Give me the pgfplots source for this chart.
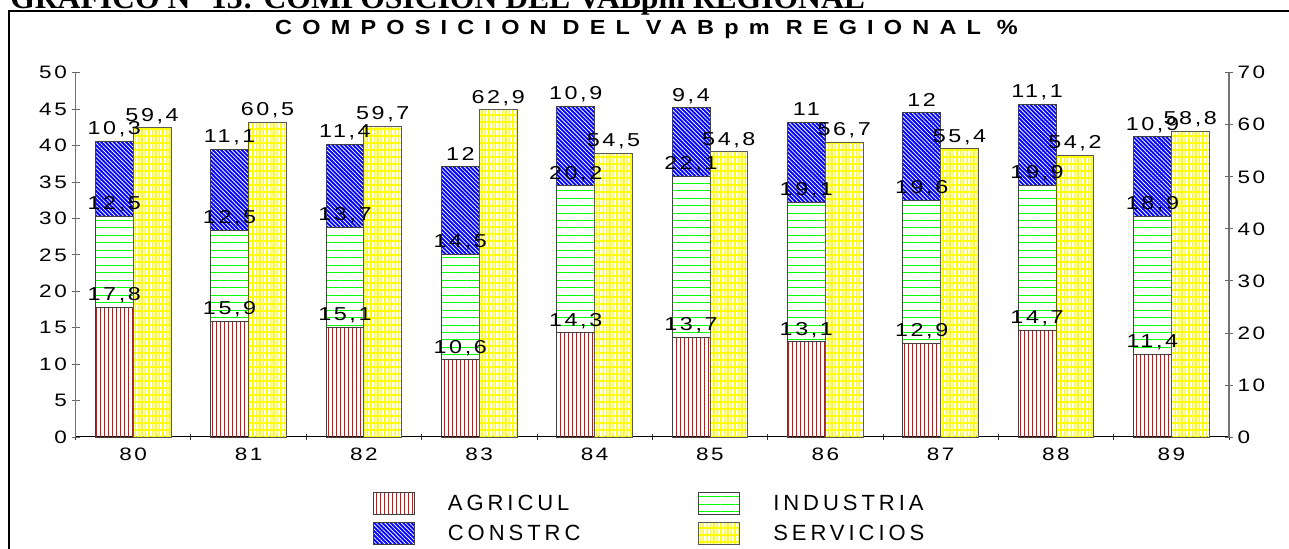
\documentclass[border=0pt]{standalone}
\usepackage{fontspec}
\setmainfont{Liberation Sans}
\newfontfamily\numfont[LetterSpace=14,FakeStretch=1.25]{Liberation Sans}
\newfontfamily\legfont[LetterSpace=18]{Liberation Sans}
\newfontfamily\titfont[LetterSpace=50,FakeStretch=1.15]{Liberation Sans}
\newfontfamily\serfont{Liberation Serif}
\usepackage{pgfplots}
\pgfplotsset{compat=1.18}
\usepackage{pgfplotstable}
\usetikzlibrary{patterns.meta}

\definecolor{cred}{RGB}{255,0,0}
\definecolor{cgreen}{RGB}{0,255,0}
\definecolor{cblue}{RGB}{0,0,255}
\definecolor{cyellow}{RGB}{255,255,0}

\pgfplotstableread{
x agri ind con serv
0 17.8 12.5 10.3 59.4
1 15.9 12.5 11.1 60.5
2 15.1 13.7 11.4 59.7
3 10.6 14.5 12.0 62.9
4 14.3 20.2 10.9 54.5
5 13.7 22.1 9.4 54.8
6 13.1 19.1 11.0 56.7
7 12.9 19.6 12.0 55.4
8 14.7 19.9 11.1 54.2
9 11.4 18.9 10.9 58.8
}\data

\pgfplotsset{
  swatch/.style={legend image code/.code={\draw[##1] (0pt,-8.15pt) rectangle (30.75pt,8.15pt);}},
  agristyle/.style={swatch, draw=black!75, line width=0.6pt, pattern={Lines[angle=90,distance=3pt,line width=0.75pt]}, pattern color=cred},
  indstyle/.style={swatch, draw=black!75, line width=0.6pt, pattern={Lines[angle=0,distance=5.6pt,line width=0.7pt]}, pattern color=cgreen},
  constyle/.style={swatch, draw=black!75, line width=0.6pt, fill=cblue, postaction={pattern={Lines[angle=-45,distance=2.2pt,line width=0.6pt]}, pattern color=white}},
  servstyle/.style={swatch, draw=black!65, line width=0.6pt, pattern={Lines[angle=90,distance=2.6pt,line width=1.05pt]}, pattern color=cyellow, postaction={pattern={Lines[angle=0,distance=5.25pt,line width=1.05pt]}, pattern color=cyellow}},
  common/.style={
    at={(56.625pt,84pt)}, anchor=south west, scale only axis,
    width=865.125pt, height=273.2pt,
    xmin=-0.5, xmax=9.5, ymin=0,
    clip=false,
    /pgf/number format/assume math mode=true,
    /pgf/number format/use comma,
    /pgf/number format/fixed,
    /pgf/number format/precision=1,
    ticklabel style={font=\numfont\fontsize{13.5pt}{16pt}\selectfont},
    tick align=center,
    major tick length=6pt,
  },
  lab/.style={nodes near coords,
    every node near coord/.append style={anchor=base, yshift=4.9pt, inner sep=0pt,
      font=\numfont\fontsize{14pt}{16pt}\selectfont, text=black}},
}

\begin{document}
\begin{tikzpicture}
\useasboundingbox (0,0) rectangle (966.75pt,411.75pt);
\clip (0,0) rectangle (966.75pt,411.75pt);
% outer frame
\draw[line width=1.65pt] (6.975pt,-10pt) -- (6.975pt,403.3pt) -- (990pt,403.3pt);
% outer (cut) title
\node[anchor=base west, inner sep=0pt] at (7.5pt,405.4pt)
  {\resizebox{641pt}{!}{\serfont\bfseries GRAFICO N° 13: COMPOSICION DEL VABpm REGIONAL}};
% inner title
\node[anchor=base, inner sep=0pt] at (484.9pt,385.5pt)
  {\titfont\bfseries\fontsize{15.3pt}{18pt}\selectfont COMPOSICION\hspace{12pt}DEL\hspace{12pt}VABpm\hspace{12pt}REGIONAL\hspace{12pt}\%};

% left axis: stacked bars
\begin{axis}[common, ymax=50,
  ybar stacked, bar width=0.328, bar shift=-0.164,
  axis x line*=bottom, axis y line*=left,
  x axis line style={black, line width=0.75pt, -},
  y axis line style={black!55, line width=0.9pt, -},
  ytick={0,5,...,50},
  xtick={-0.5,0.5,...,9.5}, x tick label as interval,
  xticklabels={80,81,82,83,84,85,86,87,88,89},
  xtick style={black!80, line width=0.6pt, /pgfplots/major tick length=4.5pt},
  ytick style={black!60, line width=0.6pt},
  xticklabel style={yshift=-2pt},
]
\addplot[agristyle] table[x=x,y=agri]{\data};
\addplot[indstyle] table[x=x,y=ind]{\data};
\addplot[constyle] table[x=x,y=con]{\data};
\end{axis}

% right axis: SERVICIOS
\begin{axis}[common, ymax=70,
  ybar, bar width=0.328, bar shift=0.164,
  axis y line*=right, axis x line=none,
  y axis line style={black!55, line width=0.9pt, -},
  ytick={0,10,...,70},
  ytick style={black!60, line width=0.6pt},
  legend columns=2,
  legend cell align=left,
  legend style={at={(0.2577,-0.1518)}, anchor=north west, draw=none, fill=none,
    inner sep=0pt, outer sep=0pt, column sep=0pt, row sep=5.7pt,
    /tikz/every even column/.style={column sep=0pt},
    nodes={inner sep=0pt, outer sep=0pt}},
]
\addlegendimage{agristyle}
\addlegendentry{\hspace{25pt}\makebox[187.7pt][l]{\legfont\fontsize{16.5pt}{18pt}\selectfont AGRICUL}}
\addlegendimage{indstyle}
\addlegendentry{\hspace{25pt}\makebox[120pt][l]{\legfont\fontsize{16.5pt}{18pt}\selectfont INDUSTRIA}}
\addlegendimage{constyle}
\addlegendentry{\hspace{25pt}\makebox[187.7pt][l]{\legfont\fontsize{16.5pt}{18pt}\selectfont CONSTRC}}
\addplot[servstyle, lab, point meta=explicit] table[x=x,y=serv,meta=serv]{\data};
\addlegendentry{\hspace{25pt}\makebox[120pt][l]{\legfont\fontsize{16.5pt}{18pt}\selectfont SERVICIOS}}
\end{axis}

% labels for stacked bars (drawn on top), at the top of each segment
\begin{axis}[common, ymax=50, hide axis, stack plots=y, lab,
  every node near coord/.append style={xshift=-14.19pt}]
\addplot[draw=none, fill=none, mark=*, mark size=0pt, point meta=explicit] table[x=x,y=agri,meta=agri]{\data};
\addplot[draw=none, fill=none, mark=*, mark size=0pt, point meta=explicit] table[x=x,y=ind,meta=ind]{\data};
\addplot[draw=none, fill=none, mark=*, mark size=0pt, point meta=explicit] table[x=x,y=con,meta=con]{\data};
\end{axis}
\end{tikzpicture}
\end{document}
